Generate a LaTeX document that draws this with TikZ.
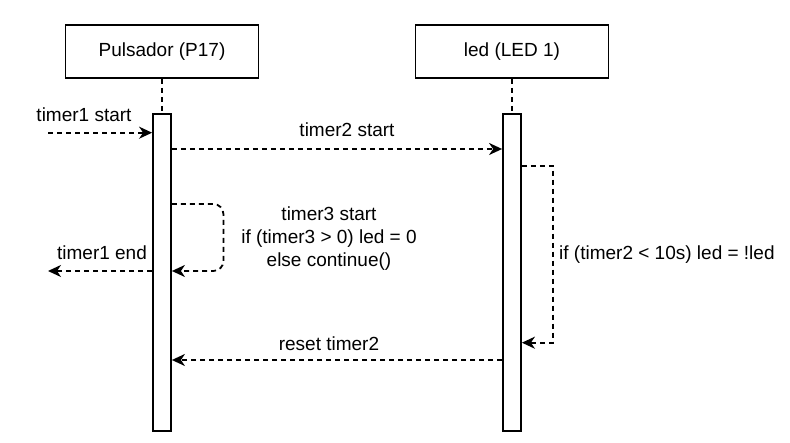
\documentclass[tikz,border=0pt]{standalone}
\usepackage{fontspec}
\setmainfont{Liberation Sans}
\usetikzlibrary{arrows.meta}
\tikzset{actor/.style={draw,line width=1.8pt,minimum width=193pt,minimum height=53pt,inner sep=0pt,
   font=\fontsize{19}{23}\selectfont},
 bar/.style={draw,fill=white,line width=1.8pt,minimum width=18pt,minimum height=317pt,inner sep=0pt,anchor=north},
 life/.style={line width=1.8pt,dash pattern=on 5pt off 4pt},
 msg/.style={line width=1.8pt,dash pattern=on 5pt off 4pt,-{Stealth[length=13pt,width=12pt,inset=4pt]}},
 lbl/.style={inner sep=0pt,align=center,font=\fontsize{19}{23}\selectfont},
 }

\begin{document}
\begin{tikzpicture}[x=1pt,y=-1pt]
        \useasboundingbox (0,0) rectangle (790,443);
        \node[actor] (p) at (162,51.5) {Pulsador (P17)};
        \node[actor] (l) at (512,51.5) {led (LED 1)};
        \node[bar] (barp) at (162,113) {};
        \node[bar] (barl) at (512,113) {};
        \foreach \i in {p, l} {
            \draw[life] (\i.south) -- (bar\i.north);
        }
        \coordinate (in) at (48,132.7);
        \coordinate (out) at (48,271);
        \draw[msg] (in) -- ([yshift=-19.7pt]barp.north west);
        \draw[msg] ([yshift=-36pt]barp.north east) -- ([yshift=-36pt]barl.north west);
        \draw[msg, rounded corners=10pt] ([yshift=-91pt]barp.north east) -- ++(51.5,0) -- ++(0,67)
            -- ([yshift=-158pt]barp.north east);
        \draw[msg] ([yshift=-158pt]barp.north west) -- (out);
        \draw[msg] ([yshift=-52.7pt]barl.north east) -- ++(31,0) -- ++(0,177)
            -- ([yshift=-229.7pt]barl.north east);
        \draw[msg] ([yshift=-247pt]barl.north west) -- ([yshift=-247pt]barp.north east);
        \node[lbl] (t1s) at (84,115) {timer1 start};
        \node[lbl] (t2s) at (347,130) {timer2 start};
        \node[lbl] (t3s) at (329,239) {timer3 start\\if (timer3 > 0) led = 0\\else continue()};
        \node[lbl] (t1e) at (102,253) {timer1 end};
        \node[lbl, anchor=west] (cond) at (559,255) {if (timer2 < 10s) led = !led};
        \node[lbl] (rst) at (329,344) {reset timer2};
    \end{tikzpicture}
\end{document}
